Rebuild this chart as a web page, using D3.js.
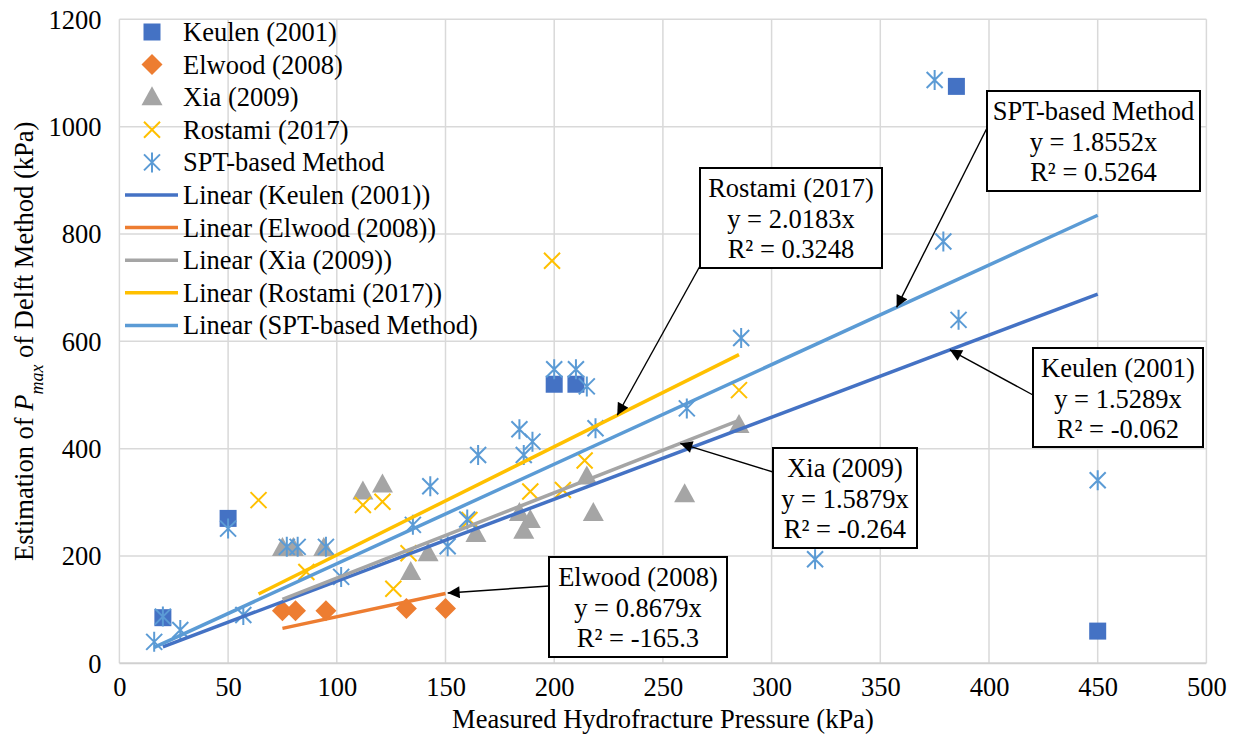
<!DOCTYPE html>
<html>
<head>
<meta charset="utf-8">
<script src="https://cdn.jsdelivr.net/npm/d3@7"></script>
<style>
  html, body { margin: 0; padding: 0; background: #fff; }
  svg { display: block; }
  text { font-family: "Liberation Serif", "Tinos", "Times New Roman", "Nimbus Roman", "DejaVu Serif", serif; fill: #000; }
</style>
</head>
<body>
<svg id="chart" width="1237" height="738"></svg>
<script>
// ---- data -------------------------------------------------------------
const seriesNames = ["Keulen (2001)", "Elwood (2008)", "Xia (2009)", "Rostami (2017)", "SPT-based Method"];
const seriesColors = ["#4472C4", "#ED7D31", "#A5A5A5", "#FFC000", "#5B9BD5"];

const keulen = [[20, 85], [50, 270], [200, 520], [210, 520], [385, 1075], [450, 60]];
const elwood = [[75, 98], [81, 98], [95, 98], [132, 102], [150, 102]];
const xia = [[75, 215], [80, 215], [94, 215], [112, 320], [121, 333], [134, 170], [142, 205],
             [164, 241], [184, 280], [186, 247], [189, 267], [215, 348], [218, 280], [260, 315], [285, 444]];
const rostami = [[64, 304], [86, 170], [112, 295], [121, 301], [126, 139], [133, 205], [161, 267],
                 [189, 320], [199, 750], [204, 323], [214, 378], [285, 509]];
const spt = [[16, 40], [28, 62], [20, 87], [50, 251], [57, 90], [77, 217], [82, 217], [95, 217],
             [102, 161], [135, 258], [143, 330], [151, 218], [160, 268], [165, 388], [184, 436],
             [186, 388], [190, 413], [200, 548], [210, 548], [215, 516], [219, 438], [261, 475],
             [286, 606], [320, 194], [375, 1087], [379, 786], [386, 640], [450, 341]];

// linear fits through the origin: y = slope * x
const slopes = [1.5289, 0.8679, 1.5879, 2.0183, 1.8552];
const rSquared = ["-0.062", "-165.3", "-0.264", "0.3248", "0.5264"];

const xTicks = [0, 50, 100, 150, 200, 250, 300, 350, 400, 450, 500];
const yTicks = [0, 200, 400, 600, 800, 1000, 1200];

const allSeries = [keulen, elwood, xia, rostami, spt];
const markerKinds = ["square", "diamond", "triangle", "cross", "asterisk"];

// ---- layout -----------------------------------------------------------
const svg = d3.select("#chart");
const plot = { left: 119.4, right: 1206.4, top: 19.3, bottom: 663.3 };
const FONT = 26.5;

const x = d3.scaleLinear().domain([0, 500]).range([plot.left, plot.right]);
const y = d3.scaleLinear().domain([0, 1200]).range([plot.bottom, plot.top]);

// gridlines
const grid = svg.append("g");
grid.selectAll("line.v").data(xTicks).join("line")
  .attr("x1", d => x(d)).attr("x2", d => x(d))
  .attr("y1", plot.top).attr("y2", plot.bottom)
  .attr("stroke", "#D9D9D9").attr("stroke-width", 1.5);
grid.selectAll("line.h").data(yTicks.filter(d => d > 0)).join("line")
  .attr("x1", plot.left).attr("x2", plot.right)
  .attr("y1", d => y(d)).attr("y2", d => y(d))
  .attr("stroke", "#D9D9D9").attr("stroke-width", 1.5);

// axes (labels only; the baseline is a light rule)
const xAxis = d3.axisBottom(x).tickValues(xTicks).tickFormat(d3.format("d")).tickSize(0).tickPadding(14);
const yAxis = d3.axisLeft(y).tickValues(yTicks).tickFormat(d3.format("d")).tickSize(0).tickPadding(18);
const gx = svg.append("g").attr("transform", `translate(0,${plot.bottom})`).call(xAxis);
const gy = svg.append("g").attr("transform", `translate(${plot.left},0)`).call(yAxis);
[gx, gy].forEach(g => {
  g.attr("font-family", null).attr("font-size", null);
  g.select(".domain").remove();
  g.selectAll("text").style("font-size", FONT + "px").attr("fill", "#000");
});
gy.selectAll("text").attr("dy", "0.34em");
svg.append("line")
  .attr("x1", plot.left).attr("x2", plot.right)
  .attr("y1", plot.bottom).attr("y2", plot.bottom)
  .attr("stroke", "#D0D0D0").attr("stroke-width", 2);

// axis titles
svg.append("text")
  .attr("x", (plot.left + plot.right) / 2).attr("y", 728)
  .attr("text-anchor", "middle").style("font-size", FONT + "px")
  .text("Measured Hydrofracture Pressure (kPa)");

const yTitle = svg.append("text")
  .attr("transform", `translate(33,${(plot.top + plot.bottom) / 2}) rotate(-90)`)
  .attr("text-anchor", "middle").style("font-size", FONT + "px");
yTitle.append("tspan").text("Estimation of ");
yTitle.append("tspan").attr("font-style", "italic").text("P");
yTitle.append("tspan").attr("font-style", "italic").attr("baseline-shift", "sub")
  .style("font-size", (FONT * 0.68) + "px").text("max");
yTitle.append("tspan").text(" of Delft Method (kPa)");

// ---- markers ----------------------------------------------------------
function drawMarker(g, kind, color, cx, cy) {
  if (kind === "square") {
    g.append("rect").attr("x", cx - 8.5).attr("y", cy - 8.5).attr("width", 17).attr("height", 17)
      .attr("fill", color);
  } else if (kind === "diamond") {
    g.append("path").attr("d", `M${cx},${cy - 10.5}L${cx + 10.5},${cy}L${cx},${cy + 10.5}L${cx - 10.5},${cy}Z`)
      .attr("fill", color);
  } else if (kind === "triangle") {
    g.append("path").attr("d", `M${cx},${cy - 11}L${cx + 10.5},${cy + 8}L${cx - 10.5},${cy + 8}Z`)
      .attr("fill", color);
  } else if (kind === "cross") {
    const r = 8;
    g.append("path").attr("d", `M${cx - r},${cy - r}L${cx + r},${cy + r}M${cx - r},${cy + r}L${cx + r},${cy - r}`)
      .attr("stroke", color).attr("stroke-width", 2).attr("fill", "none");
  } else if (kind === "asterisk") {
    const r = 8;
    g.append("path").attr("d",
      `M${cx - r},${cy - r}L${cx + r},${cy + r}M${cx - r},${cy + r}L${cx + r},${cy - r}M${cx},${cy - r * 1.25}L${cx},${cy + r * 1.25}`)
      .attr("stroke", color).attr("stroke-width", 2).attr("fill", "none");
  }
}

const marks = svg.append("g");
allSeries.forEach((data, i) => {
  const g = marks.append("g");
  data.forEach(([dx, dy]) => drawMarker(g, markerKinds[i], seriesColors[i], x(dx), y(dy)));
});

// ---- trendlines -------------------------------------------------------
const trend = svg.append("g");
allSeries.forEach((data, i) => {
  const [x0, x1] = d3.extent(data, d => d[0]);
  trend.append("line")
    .attr("x1", x(x0)).attr("y1", y(slopes[i] * x0))
    .attr("x2", x(x1)).attr("y2", y(slopes[i] * x1))
    .attr("stroke", seriesColors[i]).attr("stroke-width", 3.5);
});

// ---- legend -----------------------------------------------------------
const legend = svg.append("g");
const legendItems = seriesNames.map((n, i) => ({ label: n, kind: markerKinds[i], color: seriesColors[i] }))
  .concat(seriesNames.map((n, i) => ({ label: `Linear (${n})`, kind: "line", color: seriesColors[i] })));
legendItems.forEach((item, k) => {
  const cy = 32 + k * 32.6;
  if (item.kind === "line") {
    legend.append("line").attr("x1", 125).attr("x2", 178).attr("y1", cy).attr("y2", cy)
      .attr("stroke", item.color).attr("stroke-width", 3.5);
  } else {
    drawMarker(legend, item.kind, item.color, 152, cy);
  }
  legend.append("text").attr("x", 183).attr("y", cy + 9).style("font-size", FONT + "px").text(item.label);
});

// ---- callouts with arrows ---------------------------------------------
const callouts = [
  { s: 3, box: [700, 168, 182, 100], from: [700, 266], at: 229 },
  { s: 4, box: [987, 91, 213, 100], from: [987, 128], at: 357.5 },
  { s: 0, box: [1033, 348, 170, 99], from: [1033, 395], at: 382 },
  { s: 2, box: [773, 448, 144, 100], from: [773, 472], at: 258 },
  { s: 1, box: [549, 557, 178, 100], from: [549, 586], at: 151 }
];

svg.append("defs").append("marker")
  .attr("id", "arrowHead").attr("viewBox", "0 0 10 10")
  .attr("refX", 10).attr("refY", 5)
  .attr("markerWidth", 14).attr("markerHeight", 12)
  .attr("markerUnits", "userSpaceOnUse")
  .attr("orient", "auto")
  .append("path").attr("d", "M0,0L10,5L0,10Z").attr("fill", "#000");

const notes = svg.append("g");
callouts.forEach(c => {
  const tx = x(c.at), ty = y(slopes[c.s] * c.at);
  notes.append("line")
    .attr("x1", c.from[0]).attr("y1", c.from[1]).attr("x2", tx).attr("y2", ty)
    .attr("stroke", "#000").attr("stroke-width", 1.4)
    .attr("marker-end", "url(#arrowHead)");
  const [bx, by, bw, bh] = c.box;
  notes.append("rect").attr("x", bx).attr("y", by).attr("width", bw).attr("height", bh)
    .attr("fill", "#fff").attr("stroke", "#000").attr("stroke-width", 2);
  const lines = [seriesNames[c.s], `y = ${slopes[c.s].toFixed(4)}x`, `R\u00B2 = ${rSquared[c.s]}`];
  lines.forEach((t, j) => {
    notes.append("text").attr("x", bx + bw / 2).attr("y", by + 29 + j * 30.5)
      .attr("text-anchor", "middle").style("font-size", FONT + "px").text(t);
  });
});
</script>
</body>
</html>
